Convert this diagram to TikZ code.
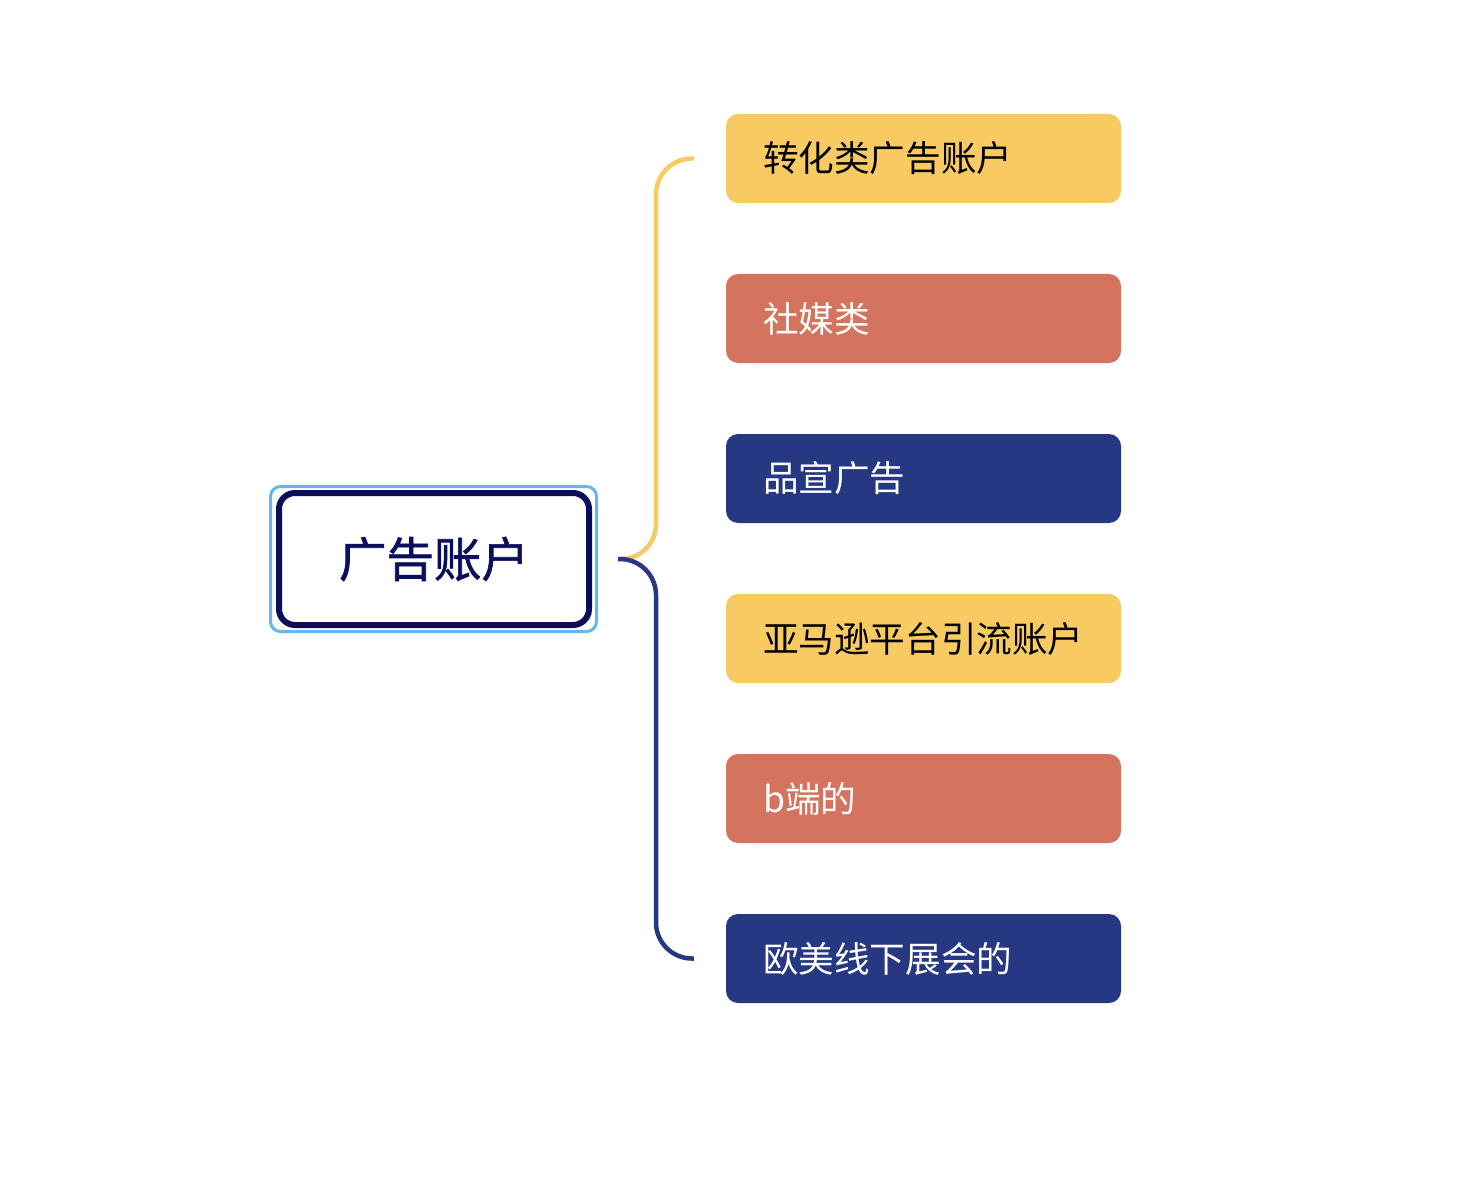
\documentclass[tikz,border=0pt]{standalone}
\usepackage{fontspec}
\setmainfont{Noto Sans CJK SC}
\newfontfamily\cjkfont{Noto Sans CJK SC}
\newfontfamily\cjkmed[FakeBold=1.3]{Noto Sans CJK SC}
\definecolor{cyellow}{HTML}{F7CB61}
\definecolor{csalmon}{HTML}{D4745E}
\definecolor{cnavy}{HTML}{273882}
\definecolor{cdark}{HTML}{0B0E5A}
\definecolor{clight}{HTML}{62B8F5}
\tikzset{
  leaf/.style={rectangle, rounded corners=12pt, minimum width=395pt, minimum height=89pt,
    inner xsep=37pt, inner ysep=0pt, anchor=center, font=\cjkfont\fontsize{35.6}{40}\selectfont},
  ybox/.style={leaf, fill=cyellow, text=black},
  sbox/.style={leaf, fill=csalmon, text=white},
  nbox/.style={leaf, fill=cnavy, text=white},
  brace/.style={line width=4.5pt, rounded corners=36pt},
}
\newcommand{\lt}[1]{\makebox[321pt][l]{#1}}
\begin{document}
\begin{tikzpicture}[x=1pt,y=-1pt]
\useasboundingbox (0,0) rectangle (1470,1182);
% central node
\node[draw=cdark, line width=6pt, rounded corners=16pt, fill=white, minimum width=310pt, minimum height=132pt,
  text=cdark, font=\cjkmed\fontsize{47.5}{52}\selectfont] (c) at (434,559) {广告账户};
\draw[clight, line width=3pt, rounded corners=10pt] ([shift={(-5.5,-3.5)}]c.north west) rectangle ([shift={(4.5,3.5)}]c.south east);
% leaves
\node[ybox] (b1) at (923.5,158.5) {\lt{转化类广告账户}};
\node[sbox] (b2) at (923.5,318.5) {\lt{社媒类}};
\node[nbox] (b3) at (923.5,478.5) {\lt{品宣广告}};
\node[ybox] (b4) at (923.5,638.5) {\lt{亚马逊平台引流账户}};
\node[sbox] (b5) at (923.5,798.5) {\lt{b端的}};
\node[nbox] (b6) at (923.5,958.5) {\lt{欧美线下展会的}};
% connectors
\coordinate (s) at ([xshift=26pt]c.east);
\coordinate (t1) at ([xshift=-32pt]b1.west);
\coordinate (t6) at ([xshift=-32pt]b6.west);
\draw[brace, cyellow] ([xshift=3pt]s) -- ([xshift=38pt,yshift=-1pt]s) |- (t1);
\draw[brace, cnavy] (s) -- ([xshift=38pt]s) |- (t6);
\end{tikzpicture}
\end{document}
